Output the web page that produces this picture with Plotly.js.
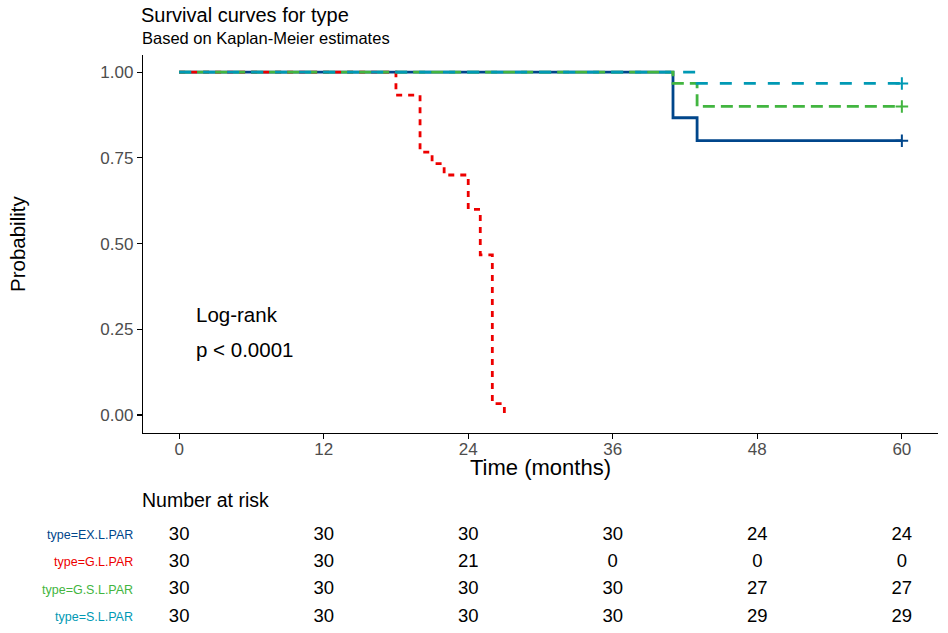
<!DOCTYPE html>
<html>
<head>
<meta charset="utf-8">
<script src="https://cdn.plot.ly/plotly-3.0.1.min.js"></script>
<style>html,body{margin:0;padding:0;background:#fff;}#chart{width:948px;height:633px;}</style>
</head>
<body>
<div id="chart"></div>
<script>
// ---- data ----
const strataNames = ["type=EX.L.PAR", "type=G.L.PAR", "type=G.S.L.PAR", "type=S.L.PAR"];
const strataColors = ["#00468B", "#ED0000", "#42B540", "#0099B4"];

const exTimes = [0, 41, 43, 60];
const exSurv  = [1, 0.867, 0.8, 0.8];
const gTimes  = [0, 18, 20, 21, 22, 24, 25, 26, 27];
const gSurv   = [1, 0.933, 0.767, 0.733, 0.7, 0.6, 0.467, 0.033, 0];
const gsTimes = [0, 41, 43, 60];
const gsSurv  = [1, 0.967, 0.9, 0.9];
const sTimes  = [0, 43, 60];
const sSurv   = [1, 0.967, 0.967];

const censorTimes = [[60], [], [60], [60]];
const censorSurv  = [[0.8], [], [0.9], [0.967]];

const riskTimes = [0, 12, 24, 36, 48, 60];
const riskEX  = [30, 30, 30, 30, 24, 24];
const riskG   = [30, 30, 21, 0, 0, 0];
const riskGS  = [30, 30, 30, 30, 27, 27];
const riskS   = [30, 30, 30, 30, 29, 29];

const xTicks = [0, 12, 24, 36, 48, 60];
const yTicks = [0, 0.25, 0.5, 0.75, 1];
const yTickText = ["0.00", "0.25", "0.50", "0.75", "1.00"];

// ---- build ----
const FONT = "Liberation Sans, Arial, sans-serif";
const curves = [[exTimes, exSurv], [gTimes, gSurv], [gsTimes, gsSurv], [sTimes, sSurv]];
const dashes = ["solid", "6px,6px", "12px,6px", "12px,12px"];
const traces = [];
curves.forEach((c, i) => {
  traces.push({
    x: c[0], y: c[1], type: "scatter", mode: "lines",
    line: {shape: "hv", color: strataColors[i], width: 2.8, dash: dashes[i]},
    xaxis: "x", yaxis: "y", showlegend: false, hoverinfo: "skip"
  });
});
censorTimes.forEach((ct, i) => {
  if (!ct.length) return;
  traces.push({
    x: ct, y: censorSurv[i], type: "scatter", mode: "markers",
    marker: {symbol: "cross-thin", size: 9, color: strataColors[i], line: {color: strataColors[i], width: 2}},
    xaxis: "x", yaxis: "y", showlegend: false, hoverinfo: "skip"
  });
});
const riskRows = [riskEX, riskG, riskGS, riskS];
riskRows.forEach((r, i) => {
  traces.push({
    x: riskTimes, y: riskTimes.map(() => 4 - i), text: r.map(String),
    type: "scatter", mode: "text", textposition: "middle center",
    textfont: {family: FONT, size: 18.5, color: "#000"},
    xaxis: "x2", yaxis: "y2", showlegend: false, hoverinfo: "skip"
  });
});

const annotations = [
  {xref: "x", yref: "y", x: 1.2, y: 0.294, text: "Log-rank", showarrow: false, xanchor: "left", yanchor: "middle", font: {family: FONT, size: 20.5, color: "#000"}},
  {xref: "x", yref: "y", x: 1.2, y: 0.19, text: "p < 0.0001", showarrow: false, xanchor: "left", yanchor: "middle", font: {family: FONT, size: 20.5, color: "#000"}},
  {xref: "paper", yref: "paper", x: 0, y: (628 - 500) / 573, text: "Number at risk", showarrow: false, xanchor: "left", yanchor: "middle", xshift: -3, font: {family: FONT, size: 19.5, color: "#000"}},
  {xref: "paper", yref: "paper", x: 0, y: (628 - 38) / 573, text: "Based on Kaplan-Meier estimates", showarrow: false, xanchor: "left", yanchor: "middle", xshift: -3, font: {family: FONT, size: 16.5, color: "#000"}},
  {xref: "paper", yref: "paper", x: -125 / 795, y: (628 - 244) / 573, text: "Probability", showarrow: false, textangle: -90, xanchor: "center", yanchor: "middle", font: {family: FONT, size: 20.5, color: "#000"}},
  {xref: "paper", yref: "paper", x: 0.5, y: (628 - 467) / 573, text: "Time (months)", showarrow: false, xanchor: "center", yanchor: "middle", font: {family: FONT, size: 22, color: "#000"}}
];
strataNames.forEach((n, i) => {
  annotations.push({xref: "paper", yref: "y2", x: 0, y: 4 - i, xshift: -8, text: n, showarrow: false,
    xanchor: "right", yanchor: "middle", font: {family: FONT, size: 12.5, color: strataColors[i]}});
});

const layout = {
  width: 948, height: 633,
  margin: {l: 143, r: 10, t: 55, b: 5},
  paper_bgcolor: "#fff", plot_bgcolor: "#fff",
  font: {family: FONT},
  title: {text: "Survival curves for type", x: 0, xref: "paper", xanchor: "left", y: 1 - 15 / 633, yref: "container", yanchor: "middle",
    pad: {l: -2}, font: {family: FONT, size: 20, color: "#000"}},
  xaxis: {
    range: [-3, 63], domain: [0, 1], anchor: "y",
    tickvals: xTicks, ticktext: xTicks.map(String),
    showline: true, linecolor: "#000", linewidth: 1.2, mirror: false,
    ticks: "outside", ticklen: 5, tickwidth: 1.2, tickcolor: "#000",
    ticklabelstandoff: -5,
    tickfont: {family: FONT, size: 17, color: "#4D4D4D"},
    showgrid: false, zeroline: false
  },
  yaxis: {
    range: [-0.0525, 1.05], domain: [0.3403, 1], anchor: "x",
    tickvals: yTicks, ticktext: yTickText,
    showline: true, linecolor: "#000", linewidth: 1.2,
    ticks: "outside", ticklen: 5, tickwidth: 1.2, tickcolor: "#000",
    tickfont: {family: FONT, size: 17, color: "#4D4D4D"},
    showgrid: false, zeroline: false
  },
  xaxis2: {range: [-3, 63], domain: [0, 1], anchor: "y2", visible: false, showgrid: false, zeroline: false},
  yaxis2: {range: [0.5975, 4.549], domain: [0, 0.1885], anchor: "x2", visible: false, showgrid: false, zeroline: false},
  annotations: annotations,
  showlegend: false
};

Plotly.newPlot("chart", traces, layout, {displayModeBar: false, staticPlot: true});
</script>
</body>
</html>
